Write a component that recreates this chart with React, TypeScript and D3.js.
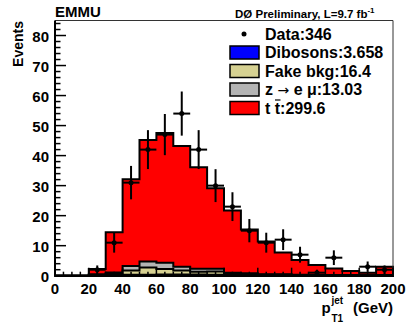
import React from "react";
import * as d3 from "d3";

const binEdges = [0,10,20,30,40,50,60,70,80,90,100,110,120,130,140,150,160,170,180,190,200];
const dataCounts = [0,0,2,11,31,42,47,54,42,30,23,15,11,12,7,1,6,0,3,2];
const dibosons = [0,0,0.05,0.3,0.3,0.3,0.4,0.4,0.4,0.3,0.2,0.2,0.15,0.15,0.1,0.1,0.1,0.1,0.05,0.1];
const fakeBkg = [0,0,0.2,0.4,1.4,2.4,1.8,1.3,0.9,1.1,0.5,0.4,0.2,0.2,0.15,0.1,0.1,0.1,0.05,0.1];
const zEmu = [0,0,0.2,0.4,1.5,2.0,2.1,1.3,1.0,0.9,0.3,0.2,0.1,0.1,0.1,0.05,0.05,0.05,0.05,0.05];
const ttbar = [0,0,1.75,13.4,28.9,40.5,43.2,40.2,33.8,26.8,20.7,14.6,10.9,7.3,4.9,3.35,2.15,1.35,0.85,2.75];

const xTickLabels = [0,20,40,60,80,100,120,140,160,180,200];
const yTickLabels = [0,10,20,30,40,50,60,70,80];

const legendItems = [
  { key: "dib", label: "Dibosons:3.658", color: "#0000ff" },
  { key: "fake", label: "Fake bkg:16.4", color: "#d6d192" },
  { key: "z", label: "Z", color: "#b4b4b4" },
  { key: "tt", label: "TTBAR", color: "#ff0000" },
];

const FONT = "'Liberation Sans', Arial, Helvetica, sans-serif";

export default function App() {
  const left = 55, right = 393, top = 20.5, bottom = 275.7;
  const x = d3.scaleLinear().domain([0, 200]).range([left, right]);
  const y = d3.scaleLinear().domain([0, 85]).range([bottom, top]);

  const layers = [dibosons, fakeBkg, zEmu, ttbar];
  const colors = ["#0000ff", "#d6d192", "#b4b4b4", "#ff0000"];
  const cum: number[][] = [];
  layers.forEach((arr, li) => {
    cum.push(arr.map((v, i) => v + (li > 0 ? cum[li - 1][i] : 0)));
  });

  const histPts = (vals: number[]) => {
    const pts: [number, number][] = [[0, 0]];
    vals.forEach((v, i) => pts.push([binEdges[i], v]));
    pts.push([binEdges[binEdges.length - 1], vals[vals.length - 1]]);
    pts.push([binEdges[binEdges.length - 1], 0]);
    return pts;
  };
  const line = d3.line<[number, number]>().x(d => x(d[0])).y(d => y(d[1])).curve(d3.curveStepAfter);

  const xMinor = d3.range(0, 201, 5);
  const yMinor = d3.range(0, 85.01, 2);

  return (
    <svg width={406} height={325} style={{ position: "absolute", left: 0, top: 0, background: "#fff" }} fontFamily={FONT}>
      <rect x={0} y={0} width={406} height={325} fill="#fff" />
      {[3, 2, 1, 0].map(li => {
        const d = line(histPts(cum[li])) + "Z";
        return <path key={li} d={d} fill={colors[li]} stroke="#000" strokeWidth={2} strokeLinejoin="miter" />;
      })}
      {dataCounts.map((n, i) => {
        if (n <= 0) return null;
        const cx = x((binEdges[i] + binEdges[i + 1]) / 2);
        const err = Math.sqrt(n);
        return (
          <g key={i} stroke="#000" strokeWidth={2}>
            <line x1={x(binEdges[i])} x2={x(binEdges[i + 1])} y1={y(n)} y2={y(n)} />
            <line x1={cx} x2={cx} y1={y(n - err)} y2={y(n + err)} />
            <circle cx={cx} cy={y(n)} r={2.5} fill="#000" stroke="none" />
          </g>
        );
      })}
      <line x1={left} x2={right} y1={top} y2={top} stroke="#333" strokeWidth={1} />
      <line x1={right} x2={right} y1={top} y2={bottom} stroke="#333" strokeWidth={1} />
      <line x1={left} x2={left} y1={top} y2={bottom + 1} stroke="#000" strokeWidth={2} />
      <line x1={left - 1} x2={right} y1={bottom} y2={bottom} stroke="#000" strokeWidth={2} />
      {yMinor.map(v => {
        const major = Math.abs(v % 10) < 1e-6;
        return <line key={"ym" + v} x1={left} x2={left + (major ? 11 : 5.5)} y1={y(v)} y2={y(v)} stroke="#000" strokeWidth={1.5} />;
      })}
      {xMinor.map(v => {
        const major = v % 20 === 0;
        return <line key={"xm" + v} x1={x(v)} x2={x(v)} y1={bottom} y2={bottom - (major ? 8 : 4)} stroke="#000" strokeWidth={1.5} />;
      })}
      {yTickLabels.map(v => (
        <text key={"yl" + v} x={49} y={y(v) + 6} textAnchor="end" fontSize={15} fontWeight="bold">{v}</text>
      ))}
      {xTickLabels.map(v => (
        <text key={"xl" + v} x={x(v)} y={294} textAnchor="middle" fontSize={15} fontWeight="bold">{v}</text>
      ))}
      <text transform="translate(23,21) rotate(-90)" textAnchor="end" fontSize={14} fontWeight="bold">Events</text>
      <text x={321.5} y={312.7} fontWeight="bold" fontSize={15}>p</text>
      <text x={331.5} y={304} fontSize={10} fontWeight="bold">jet</text>
      <text x={331.5} y={321.5} fontSize={10} fontWeight="bold">T1</text>
      <text x={393} y={312.7} textAnchor="end" fontSize={15} fontWeight="bold">(GeV)</text>
      <text x={55} y={16.5} fontSize={15} fontWeight="bold">EMMU</text>
      <text x={235} y={18} fontSize={11.5} fontWeight="bold">
        D{"\u00d8"} Preliminary, L=9.7 fb<tspan dy={-5} fontSize={8}>-1</tspan>
      </text>
      <circle cx={244} cy={34} r={2.5} fill="#000" />
      <text x={265} y={39.5} fontSize={16} fontWeight="bold">Data:346</text>
      {legendItems.map((it, i) => {
        const cy = 52.5 + i * 18.5;
        let label: React.ReactNode;
        if (it.key === "tt") {
          label = (
            <g>
              <text x={265} y={cy + 5.5} fontSize={16} fontWeight="bold">t t:299.6</text>
              <line x1={275} x2={280.5} y1={cy - 8} y2={cy - 8} stroke="#000" strokeWidth={1.2} />
            </g>
          );
        } else if (it.key === "z") {
          label = (
            <text x={265} y={cy + 5.5} fontSize={16} fontWeight="bold">
              z <tspan fontFamily="'DejaVu Sans', sans-serif" fontWeight="normal" fontSize={14}>{"\u2192"}</tspan> e {"\u03bc"}:13.03
            </text>
          );
        } else {
          label = <text x={265} y={cy + 5.5} fontSize={16} fontWeight="bold">{it.label}</text>;
        }
        return (
          <g key={it.key}>
            <rect x={230} y={cy - 6.5} width={29} height={13} fill={it.color} stroke="#000" strokeWidth={1.5} />
            {label}
          </g>
        );
      })}
    </svg>
  );
}
